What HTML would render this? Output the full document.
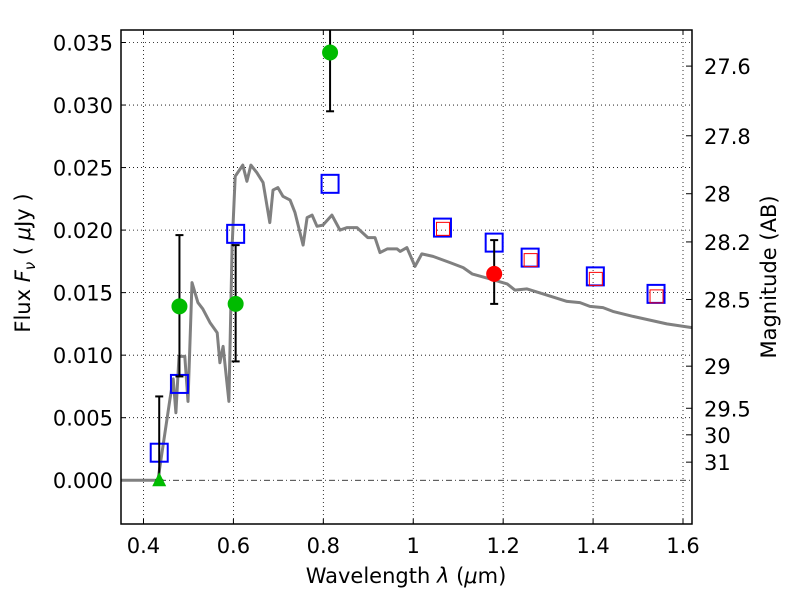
<!DOCTYPE html>
<html><head><meta charset="utf-8"><style>
body{margin:0;background:#fff;}
svg{font-family:"DejaVu Sans","Liberation Sans",sans-serif;}
</style></head><body>
<svg id="chart" width="800" height="600"></svg>
<script>
const xTicks=[0.4,0.6,0.8,1.0,1.2,1.4,1.6];
const xTickLabels=["0.4","0.6","0.8","1","1.2","1.4","1.6"];
const yTicks=[0,0.005,0.010,0.015,0.020,0.025,0.030,0.035];
const yTickLabels=["0.000","0.005","0.010","0.015","0.020","0.025","0.030","0.035"];
const magTicks=[27.6,27.8,28,28.2,28.5,29,29.5,30,31];
const magTickLabels=["27.6","27.8","28","28.2","28.5","29","29.5","30","31"];
const specWave=[0.35,0.43,0.432,0.459,0.466,0.472,0.479,0.492,0.499,0.508,0.521,0.532,0.548,0.564,0.570,0.577,0.590,0.597,0.604,0.621,0.630,0.639,0.652,0.666,0.681,0.688,0.699,0.710,0.726,0.737,0.755,0.764,0.775,0.786,0.799,0.819,0.837,0.853,0.875,0.899,0.915,0.926,0.942,0.964,0.971,0.986,1.004,1.019,1.044,1.082,1.111,1.131,1.171,1.209,1.226,1.253,1.289,1.342,1.371,1.393,1.422,1.444,1.489,1.564,1.62];
const specFlux=[0,0,0,0.0065,0.0081,0.0054,0.0099,0.0099,0.0063,0.0158,0.0142,0.0137,0.0126,0.0118,0.0094,0.0107,0.0063,0.0187,0.0243,0.0252,0.0239,0.0252,0.0246,0.0238,0.0206,0.0232,0.0234,0.0227,0.0224,0.0214,0.0188,0.0210,0.0212,0.0203,0.0204,0.0212,0.0200,0.0202,0.0202,0.0194,0.0194,0.0182,0.0185,0.0185,0.0183,0.0186,0.0171,0.0181,0.0179,0.0174,0.0170,0.0165,0.0161,0.0157,0.0152,0.0153,0.0149,0.0143,0.0142,0.0139,0.0138,0.0135,0.0131,0.0125,0.0122];
const greenWave=[0.48,0.605,0.815];
const greenFlux=[0.0139,0.0141,0.0342];
const greenLo=[0.0083,0.0095,0.0295];
const greenHi=[0.0196,0.0188,0.040];
const limitWave=[0.435];
const limitFlux=[0];
const limitHi=[0.0067];
const redWave=[1.18];
const redFlux=[0.0165];
const redLo=[0.0141];
const redHi=[0.0192];
const blueWave=[0.435,0.48,0.605,0.815,1.065,1.18,1.26,1.405,1.54];
const blueFlux=[0.0022,0.0077,0.0197,0.0237,0.0202,0.0190,0.0178,0.0163,0.0149];
const modelWave=[1.065,1.26,1.405,1.54];
const modelFlux=[0.0201,0.0176,0.0161,0.0147];

const L=121,R=692,T=30,B=524,X0=0.35,X1=1.62,Y0=-0.0035,Y1=0.036;
const sx=v=>L+(v-X0)/(X1-X0)*(R-L);
const sy=v=>B-(v-Y0)/(Y1-Y0)*(B-T);
const magToY=m=>sy(Math.pow(10,(23.9-m)/2.5));
const svg=document.getElementById('chart');
const NS="http://www.w3.org/2000/svg";
function mk(tag,attrs,parent){const e=document.createElementNS(NS,tag);for(const k in attrs)e.setAttribute(k,attrs[k]);(parent||svg).appendChild(e);return e;}
const clip=mk('clipPath',{id:'pc'});mk('rect',{x:L,y:T,width:R-L,height:B-T},clip);

const grid=mk('g',{});


xTicks.forEach((v,i)=>{
  mk('line',{x1:sx(v),x2:sx(v),y1:T,y2:B,stroke:'#000','stroke-width':0.8,'stroke-dasharray':'1,3'},grid);
  mk('line',{x1:sx(v),x2:sx(v),y1:B,y2:B-5,stroke:'#000'},grid);
  mk('line',{x1:sx(v),x2:sx(v),y1:T,y2:T+5,stroke:'#000'},grid);
  const t=mk('text',{x:sx(v),y:B+29,'font-size':21,'text-anchor':'middle'});
  
  
  t.textContent=xTickLabels[i];
});
yTicks.forEach((v,i)=>{
  if(v!==0)mk('line',{x1:L,x2:R,y1:sy(v),y2:sy(v),stroke:'#000','stroke-width':0.8,'stroke-dasharray':'1,3'},grid);
  mk('line',{x1:L,x2:L+5,y1:sy(v),y2:sy(v),stroke:'#000'},grid);
  const t=mk('text',{x:L-8,y:sy(v)+8,'font-size':21,'text-anchor':'end'});
  
  
  t.textContent=yTickLabels[i];
});
const zl=mk('line',{x1:L,x2:R,y1:sy(0),y2:sy(0),stroke:'#000','stroke-width':0.8,'stroke-dasharray':'6,3,1,3'});


magTicks.forEach((m,i)=>{
  const y=magToY(m);
  mk('line',{x1:R,x2:R-6,y1:y,y2:y,stroke:'#000'});
  const t=mk('text',{x:R+12,y:y+8,'font-size':21,'text-anchor':'start'});
  
  
  t.textContent=magTickLabels[i];
});

const plot=mk('g',{'clip-path':'url(#pc)'});
let d='';specWave.forEach((w,i)=>{d+=(i?'L':'M')+sx(w).toFixed(1)+','+sy(specFlux[i]).toFixed(1);});
const sp=mk('path',{d:d,fill:'none',stroke:'#808080','stroke-width':3,'stroke-linejoin':'round'},plot);



function errbar(x,lo,hi){
  const g=mk('g',{stroke:'#000','stroke-width':2},plot);
  
  
  mk('line',{x1:sx(x),x2:sx(x),y1:sy(lo),y2:sy(hi)},g);
  mk('line',{x1:sx(x)-4,x2:sx(x)+4,y1:sy(lo),y2:sy(lo)},g);
  mk('line',{x1:sx(x)-4,x2:sx(x)+4,y1:sy(hi),y2:sy(hi)},g);
}
blueWave.forEach((w,i)=>{
  const r=mk('rect',{x:sx(w)-8.5,y:sy(blueFlux[i])-9,width:17,height:18,fill:'none',stroke:'#0000ff','stroke-width':2},plot);
  
  
});
modelWave.forEach((w,i)=>{
  const r=mk('rect',{x:sx(w)-6,y:sy(modelFlux[i])-6.5,width:13,height:13,fill:'none',stroke:'#ff0000','stroke-width':1},plot);
  
  
});
greenWave.forEach((w,i)=>{
  errbar(w,greenLo[i],greenHi[i]);
  const c=mk('circle',{cx:sx(w),cy:sy(greenFlux[i]),r:8,fill:'#00bb00'},plot);
  
  
});
limitWave.forEach((w,i)=>{
  errbar(w,limitFlux[i],limitHi[i]);
  const x=sx(w),y=sy(limitFlux[i]);
  const p=mk('polygon',{points:`${x},${y-8} ${x-7},${y+6} ${x+7},${y+6}`,fill:'#00bb00'},plot);
  
  
});
redWave.forEach((w,i)=>{
  errbar(w,redLo[i],redHi[i]);
  const c=mk('circle',{cx:sx(w),cy:sy(redFlux[i]),r:8,fill:'#ff0000'},plot);
  
  
});
const fr=mk('rect',{x:L,y:T,width:R-L,height:B-T,fill:'none',stroke:'#000','stroke-width':1.5});


</script>
<svg width="800" height="600" style="position:absolute;left:0;top:0">
<text x="406" y="583" font-size="21" text-anchor="middle" font-family="DejaVu Sans, sans-serif">Wavelength  <tspan font-style="italic">λ</tspan> (<tspan font-style="italic">μ</tspan>m)</text>
<text transform="translate(30,263) rotate(-90)" font-size="21" text-anchor="middle" font-family="DejaVu Sans, sans-serif">Flux  <tspan font-style="italic">F</tspan><tspan font-style="italic" font-size="15" dy="5">ν</tspan><tspan dy="-5">  ( </tspan><tspan font-style="italic">μ</tspan>Jy )</text>
<text transform="translate(776,277) rotate(-90)" font-size="21" text-anchor="middle" font-family="DejaVu Sans, sans-serif">Magnitude (AB)</text>
</svg>
</body></html>
